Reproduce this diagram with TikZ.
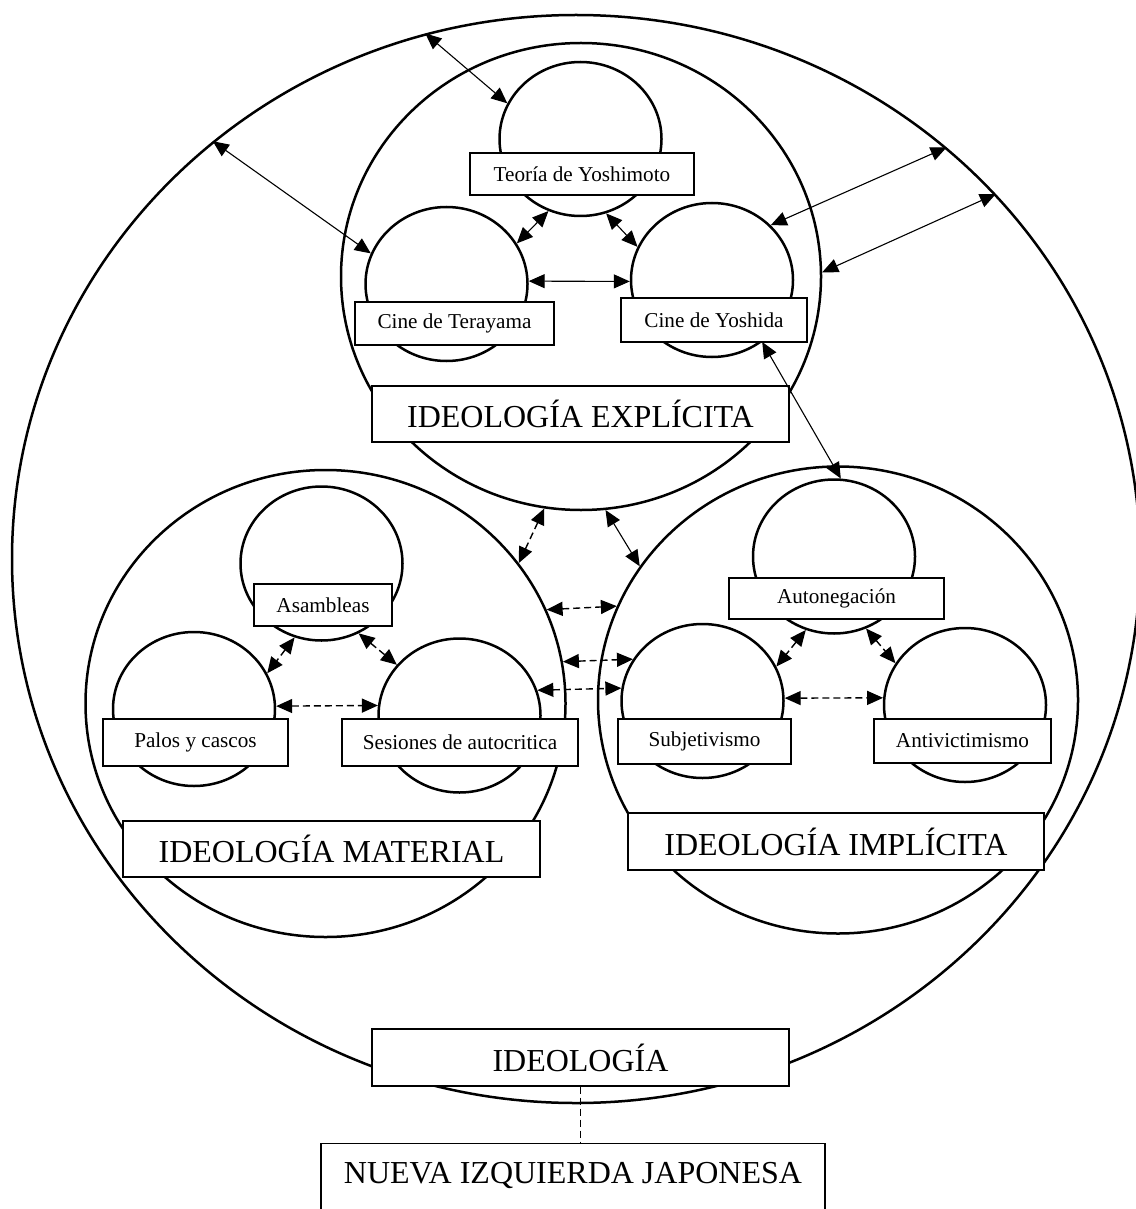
\documentclass[tikz,border=0pt]{standalone}
\usepackage{fontspec}
\setmainfont{Liberation Serif}
\usetikzlibrary{arrows.meta,shapes.geometric}

\begin{document}
\begin{tikzpicture}[x=0.5pt, y=-0.5pt, >={Triangle[length=8pt,width=7pt]},
  ring/.style={draw, ellipse, line width=1.25pt, inner sep=0pt},
  bigring/.style={ring, minimum width=240pt, minimum height=233.5pt},
  smallring/.style={ring, minimum width=81pt, minimum height=77pt},
  subbox/.style={draw, fill=white, line width=0.65pt, inner sep=0pt,
    font=\fontsize{10.6}{12}\selectfont},
  mainbox/.style={draw, fill=white, line width=0.65pt, inner sep=0pt,
    minimum width=208.5pt, minimum height=28pt, font=\fontsize{16}{19}\selectfont},
  link/.style={<->, line width=0.55pt},
  dlink/.style={link, line width=0.7pt, dash pattern=on 3.5pt off 2pt}]
\useasboundingbox (0,0) rectangle (1135,1209);

% Ideologia
\node[ring, minimum width=564pt, minimum height=544pt] (ideo) at (576,559) {};

% Three big circles
\node[bigring] (expl) at (581,276.5) {};
\node[bigring] (mat) at (325.5,703.5) {};
\node[bigring] (impl) at (838,700) {};

% Small circles
\node[smallring] (teoria) at (580.5,139) {};
\node[smallring] (tera) at (446.5,284) {};
\node[smallring] (yosh) at (712,280) {};
\node[smallring] (asam) at (321.5,563.5) {};
\node[smallring] (palos) at (194,709) {};
\node[smallring] (sesion) at (459.5,715.5) {};
\node[smallring] (autoneg) at (834,556.5) {};
\node[smallring] (subj) at (702.5,701) {};
\node[smallring] (anti) at (965,705) {};

% Labels
\node[subbox, minimum width=112pt, minimum height=21pt] (teoriaL) at (582,174) {Teoría de Yoshimoto};
\node[subbox, minimum width=99.5pt, minimum height=21.5pt] (teraL) at (454.5,323.5) {Cine de Terayama};
\node[subbox, minimum width=93pt, minimum height=22pt] (yoshL) at (714,320) {Cine de Yoshida};
\node[subbox, minimum width=69pt, minimum height=21pt] (asamL) at (323,605) {Asambleas};
\node[subbox, minimum width=92.5pt, minimum height=23.5pt] (palosL) at (195.5,742.5) {Palos y cascos};
\node[subbox, minimum width=118pt, minimum height=23.5pt] (sesionL) at (460,742.5) {Sesiones de autocritica};
\node[subbox, minimum width=107.5pt, minimum height=20.5pt] (autonegL) at (836.5,598.5) {Autonegación};
\node[subbox, minimum width=86.5pt, minimum height=22.5pt] (subjL) at (704.5,741.5) {Subjetivismo};
\node[subbox, minimum width=88.5pt, minimum height=22pt] (antiL) at (962.5,741) {Antivictimismo};

\node[mainbox] (explL) at (580.5,414) {IDEOLOGÍA EXPLÍCITA};
\node[mainbox] (matL) at (331.5,849) {IDEOLOGÍA MATERIAL};
\node[mainbox, minimum width=208pt, minimum height=28.5pt] (implL) at (836,841.5) {IDEOLOGÍA IMPLÍCITA};
\node[mainbox, minimum height=28.5pt] (ideoL) at (580.5,1057.5) {IDEOLOGÍA};
\node[mainbox, anchor=north, minimum width=252pt, text height=20pt, text depth=16pt] (nueva) at (573,1143) {NUEVA IZQUIERDA JAPONESA};

% Arrows
\draw[link] (ideo.106.2) -- (teoria.154.5);
\draw[link] (ideo.131.5) -- (tera.158.1);
\draw[link] (teoria.246.7) -- (tera.30.2);
\draw[link] (teoria.289) -- (yosh.156);
\draw[link] (tera.2) -- (yosh.181);
\draw[link] (yosh.43.5) -- (ideo.48.8);
\draw[link] (expl.1.1) -- (ideo.41.6);
\draw[link] (yosh.309) -- (autoneg.85);
\draw[link] (expl.276.2) -- (impl.146.5);
\draw[dlink] (expl.261.6) -- (mat.36);
\draw[dlink] (mat.23.3) -- (impl.157.6);
\draw[dlink] (mat.10.3) -- (subj.149.6);
\draw[dlink] (sesion.18.5) -- (subj.171.5);
\draw[dlink] (asam.250.2) -- (palos.26.6);
\draw[dlink] (asam.298.3) -- (sesion.141.3);
\draw[dlink] (palos.2.3) -- (sesion.173.4);
\draw[dlink] (autoneg.249.1) -- (subj.25.5);
\draw[dlink] (autoneg.294.8) -- (anti.149.7);
\draw[dlink] (subj.2.4) -- (anti.175.2);
\draw[line width=0.6pt, dash pattern=on 3.5pt off 2pt] (ideoL.south) -- (ideoL.south |- nueva.north);
\end{tikzpicture}
\end{document}
